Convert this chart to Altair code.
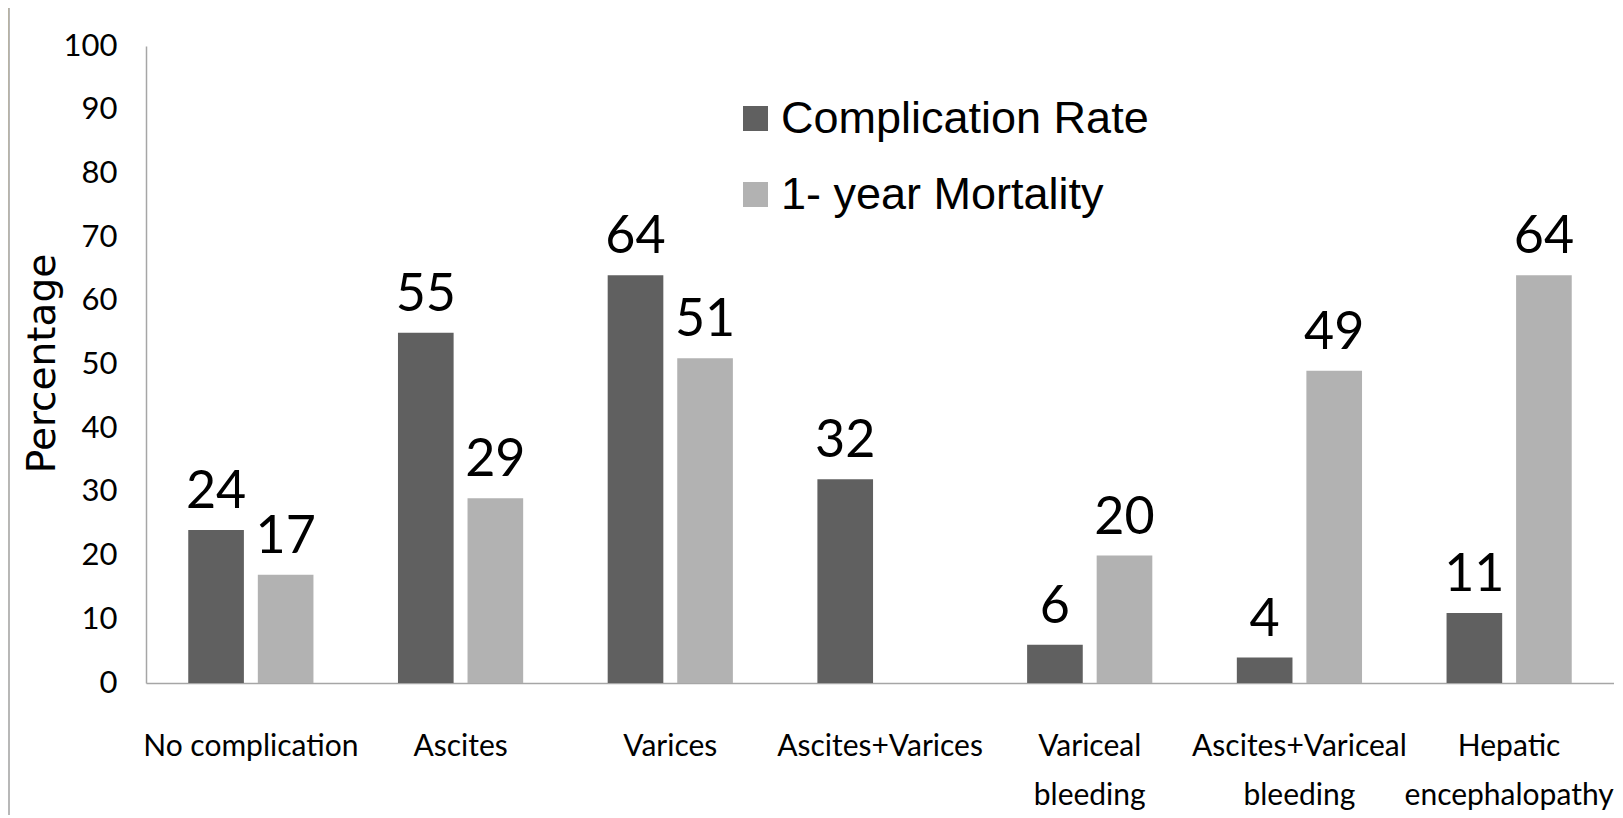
import altair as alt
import pandas as pd

categories = ["No complication", "Ascites", "Varices", "Ascites+Varices",
              "Variceal|bleeding", "Ascites+Variceal|bleeding", "Hepatic|encephalopathy"]
complication_rate = [24, 55, 64, 32, 6, 4, 11]
mortality = [17, 29, 51, None, 20, 49, 64]
series = ["Complication Rate", "1- year Mortality"]
colors = ["#606060", "#b2b2b2"]
y_ticks = [0, 10, 20, 30, 40, 50, 60, 70, 80, 90, 100]

rows = []
for c, a, b in zip(categories, complication_rate, mortality):
    rows.append({"category": c, "series": series[0], "value": a})
    if b is not None:
        rows.append({"category": c, "series": series[1], "value": b})
df = pd.DataFrame(rows)

CAL = "Lato"
ARIAL = "Liberation Sans"
W, H = 1468, 637

x_enc = alt.X("category:N", sort=categories,
              scale=alt.Scale(paddingInner=0.403, paddingOuter=0.2015),
              axis=alt.Axis(title=None, labelAngle=0, labelExpr="split(datum.value, '|')",
                            labelFont=CAL, labelFontSize=30, labelColor="black",
                            labelPadding=48, labelLineHeight=49, ticks=False, labelLimit=0,
                            domainColor="#a6a6a6", domainWidth=1.5))
xo_enc = alt.XOffset("series:N", sort=series,
                     scale=alt.Scale(paddingInner=0.2, paddingOuter=0))
y_enc = alt.Y("value:Q", scale=alt.Scale(domain=[0, 100], nice=False),
              axis=alt.Axis(values=y_ticks, grid=False, ticks=False, labelPadding=29,
                            labelFont=CAL, labelFontSize=31, labelColor="black",
                            domainColor="#a6a6a6", domainWidth=1.5,
                            title="Percentage", titleFont="DejaVu Sans", titleFontSize=39,
                            titleFontWeight="normal", titleColor="black",
                            titleX=-104, titleY=317, titleAngle=270,
                            titleAlign="center", titleBaseline="middle"))

bars = alt.Chart(df).mark_bar().encode(
    x=x_enc, xOffset=xo_enc, y=y_enc,
    color=alt.Color("series:N", sort=series,
                    scale=alt.Scale(domain=series, range=colors),
                    legend=alt.Legend(title=None, orient="none", legendX=587, legendY=50,
                                      symbolType="square", symbolSize=625, symbolStrokeWidth=0,
                                      labelFont=ARIAL, labelFontSize=45, labelColor="black",
                                      labelOffset=3, rowPadding=30, padding=0, labelLimit=0,
                                      labelBaseline="middle"))
)

text = alt.Chart(df).mark_text(dy=-22, baseline="alphabetic", align="center",
                               font=CAL, fontSize=52, color="black").encode(
    x=x_enc, xOffset=xo_enc, y=y_enc, text=alt.Text("value:Q")
)

one = alt.Data(values=[{}])
deco_top = alt.Chart(one).mark_rect(
    color=alt.Gradient(gradient="linear", x1=0, x2=1, y1=0, y2=0,
                       stops=[alt.GradientStop(color="#fce6a4", offset=0),
                              alt.GradientStop(color="#fdeebf", offset=0.75),
                              alt.GradientStop(color="#ffffff", offset=1)])
).encode(x=alt.value(-146), x2=alt.value(150), y=alt.value(-46), y2=alt.value(-40))
deco_left = alt.Chart(one).mark_rect(
    color=alt.Gradient(gradient="linear", x1=0, x2=0, y1=0, y2=1,
                       stops=[alt.GradientStop(color="#fce6a4", offset=0),
                              alt.GradientStop(color="#fef6e0", offset=0.4),
                              alt.GradientStop(color="#ffffff", offset=1)])
).encode(x=alt.value(-146), x2=alt.value(-137), y=alt.value(-46), y2=alt.value(772))
deco_line = alt.Chart(one).mark_rule(color="#a0a0a0", strokeWidth=1.5).encode(
    x=alt.value(-137), y=alt.value(-40), y2=alt.value(772))

chart = alt.layer(deco_top, deco_left, deco_line, bars, text).properties(
    width=W, height=H,
    padding={"left": 138, "top": 38, "right": 0, "bottom": 132},
    autosize=alt.AutoSizeParams(type="none"),
    background="white",
).configure_view(stroke=None)

chart.save("out.html", embed_options={"renderer": "svg", "actions": False})
